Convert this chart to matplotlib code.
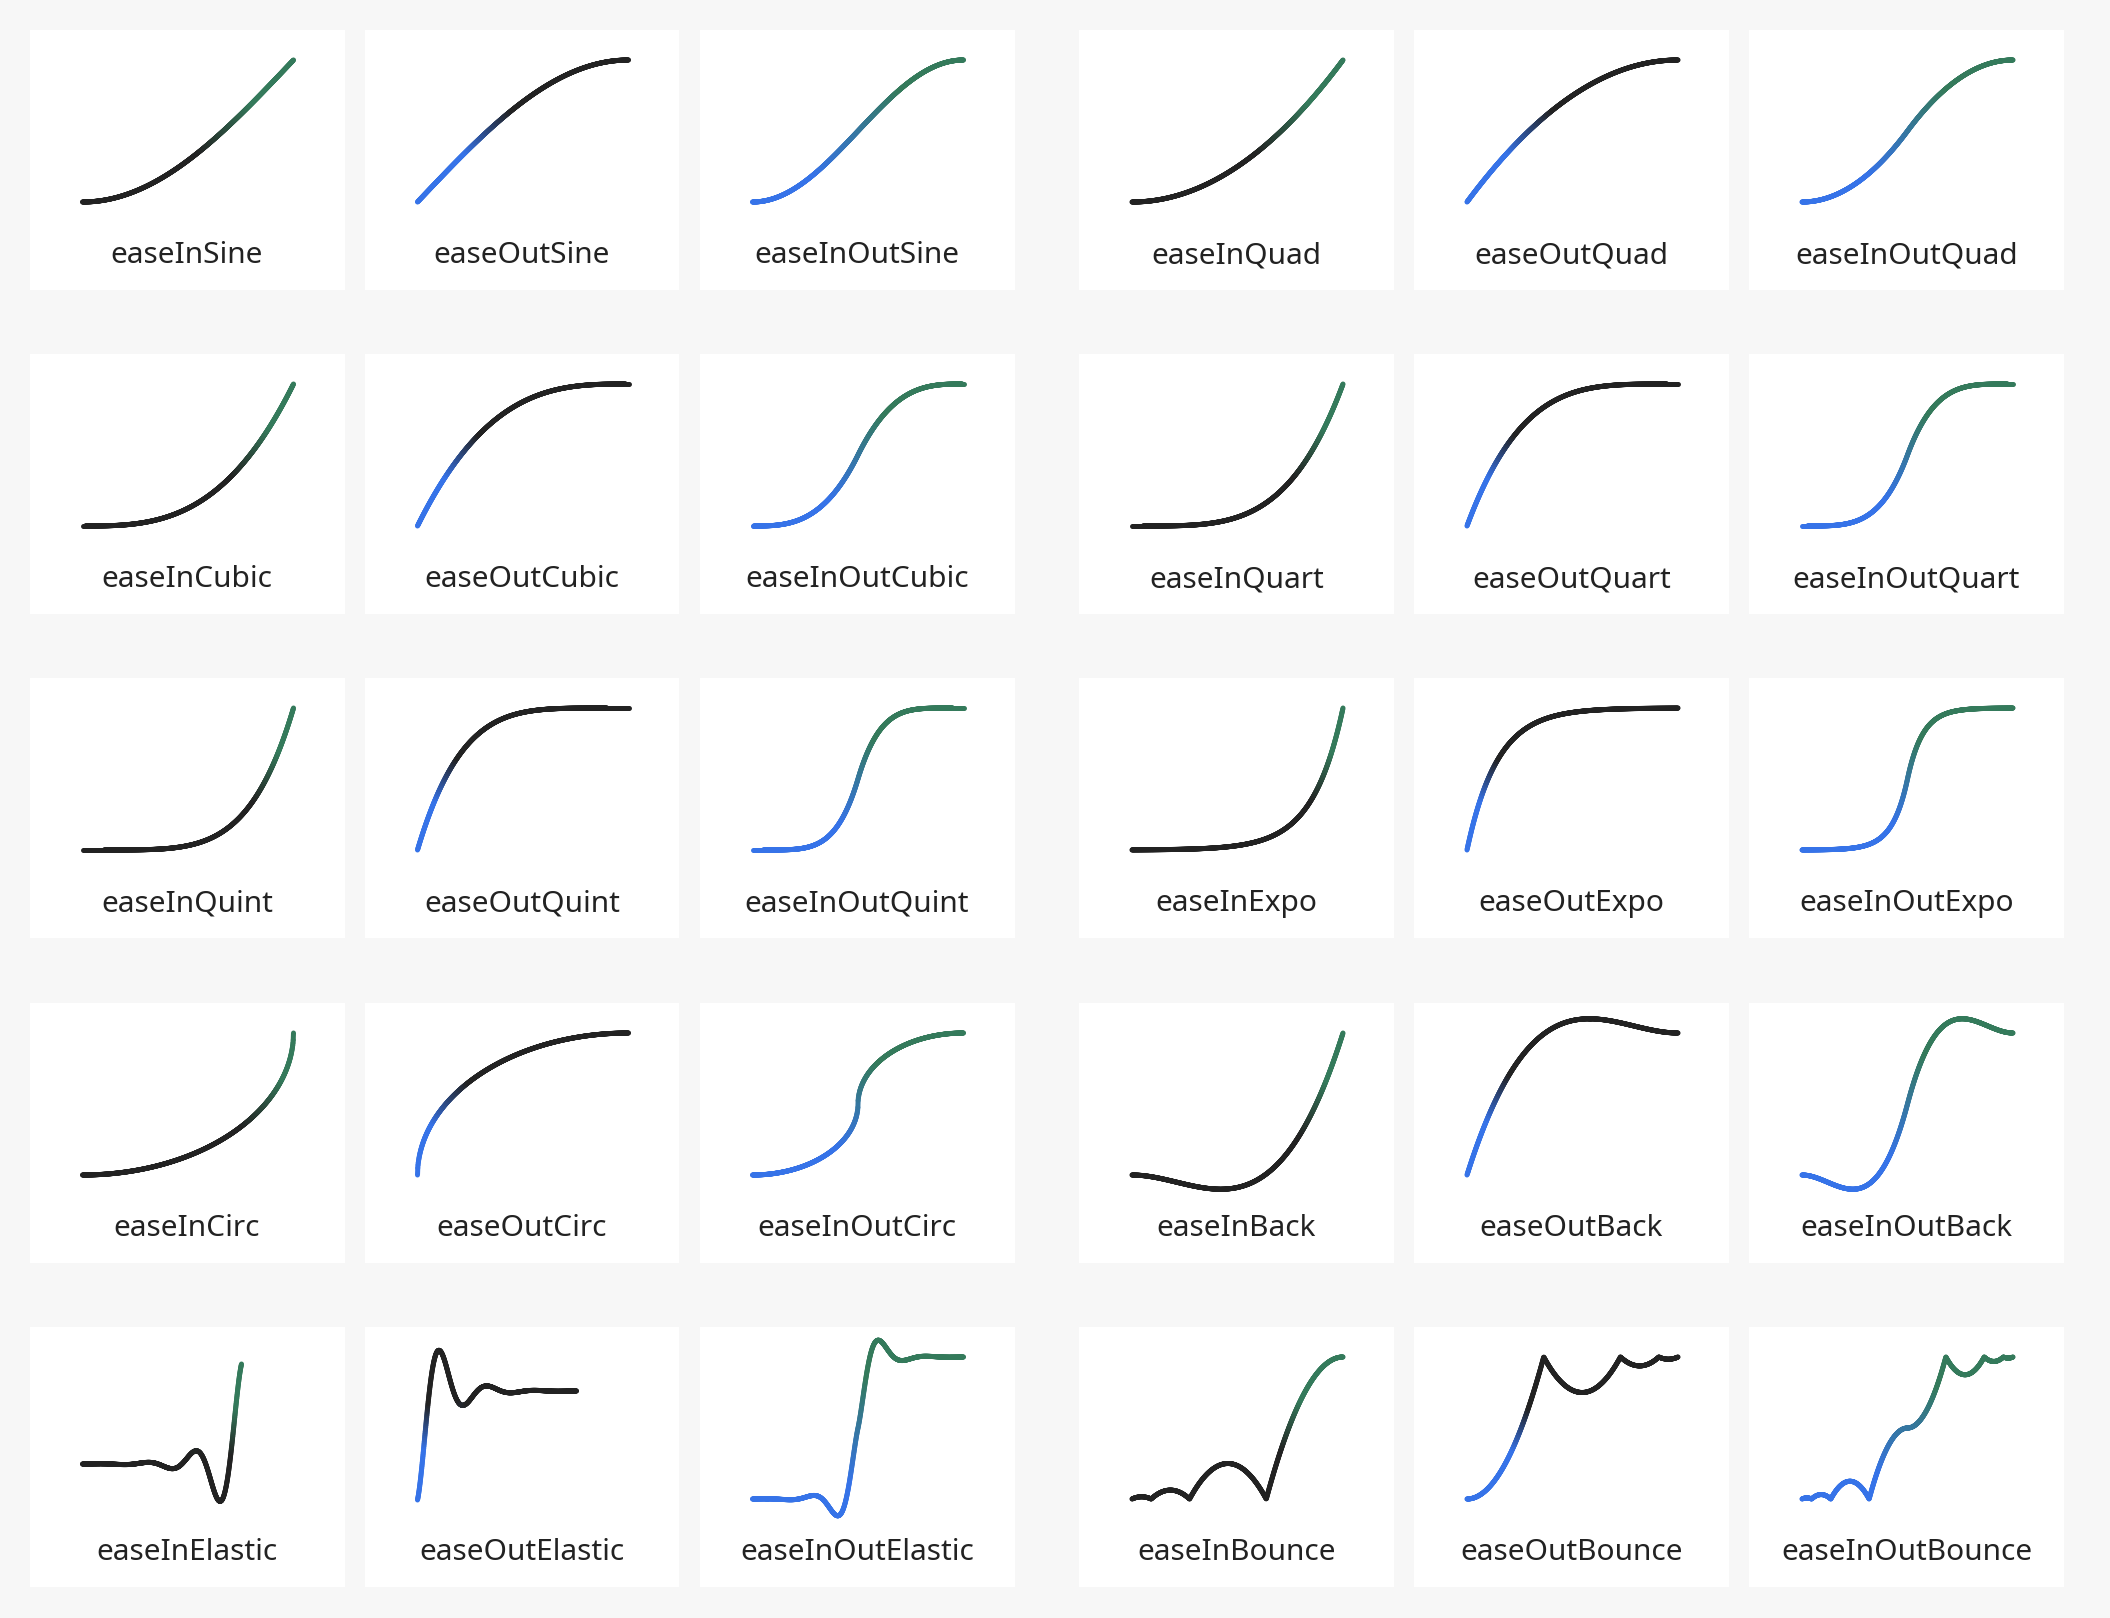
import numpy as np
import matplotlib.pyplot as plt
from matplotlib.collections import LineCollection
from matplotlib.patches import FancyBboxPatch
from matplotlib.colors import to_rgb

# one card per easing function, 5 rows x 6 cards (two groups of three)
labels = [
    "easeInSine", "easeOutSine", "easeInOutSine", "easeInQuad", "easeOutQuad", "easeInOutQuad",
    "easeInCubic", "easeOutCubic", "easeInOutCubic", "easeInQuart", "easeOutQuart", "easeInOutQuart",
    "easeInQuint", "easeOutQuint", "easeInOutQuint", "easeInExpo", "easeOutExpo", "easeInOutExpo",
    "easeInCirc", "easeOutCirc", "easeInOutCirc", "easeInBack", "easeOutBack", "easeInOutBack",
    "easeInElastic", "easeOutElastic", "easeInOutElastic", "easeInBounce", "easeOutBounce", "easeInOutBounce",
]

# the curves are the easing functions named on each card
C1 = 1.70158
C2 = C1 * 1.525
C3 = C1 + 1
C4 = 2 * np.pi / 3
C5 = 2 * np.pi / 4.5


def bounce_out(x):
    n1, d1 = 7.5625, 2.75
    return np.where(x < 1 / d1, n1 * x * x,
           np.where(x < 2 / d1, n1 * (x - 1.5 / d1) ** 2 + 0.75,
           np.where(x < 2.5 / d1, n1 * (x - 2.25 / d1) ** 2 + 0.9375,
                    n1 * (x - 2.625 / d1) ** 2 + 0.984375)))


def power_in(p):
    return lambda x: x ** p


def power_out(p):
    return lambda x: 1 - (1 - x) ** p


def power_inout(p):
    return lambda x: np.where(x < 0.5, 2 ** (p - 1) * x ** p, 1 - (-2 * x + 2) ** p / 2)


easing = {
    "easeInSine": lambda x: 1 - np.cos(x * np.pi / 2),
    "easeOutSine": lambda x: np.sin(x * np.pi / 2),
    "easeInOutSine": lambda x: -(np.cos(np.pi * x) - 1) / 2,
    "easeInExpo": lambda x: np.where(x == 0, 0, 2 ** (10 * x - 10)),
    "easeOutExpo": lambda x: np.where(x == 1, 1, 1 - 2 ** (-10 * x)),
    "easeInOutExpo": lambda x: np.where(x == 0, 0, np.where(x == 1, 1, np.where(
        x < 0.5, 2 ** (20 * x - 10) / 2, (2 - 2 ** (-20 * x + 10)) / 2))),
    "easeInCirc": lambda x: 1 - np.sqrt(1 - x ** 2),
    "easeOutCirc": lambda x: np.sqrt(1 - (x - 1) ** 2),
    "easeInOutCirc": lambda x: np.where(x < 0.5, (1 - np.sqrt(np.clip(1 - (2 * x) ** 2, 0, 1))) / 2,
                                        (np.sqrt(np.clip(1 - (-2 * x + 2) ** 2, 0, 1)) + 1) / 2),
    "easeInBack": lambda x: C3 * x ** 3 - C1 * x ** 2,
    "easeOutBack": lambda x: 1 + C3 * (x - 1) ** 3 + C1 * (x - 1) ** 2,
    "easeInOutBack": lambda x: np.where(x < 0.5, ((2 * x) ** 2 * ((C2 + 1) * 2 * x - C2)) / 2,
                                        ((2 * x - 2) ** 2 * ((C2 + 1) * (x * 2 - 2) + C2) + 2) / 2),
    "easeInElastic": lambda x: np.where((x == 0) | (x == 1), x,
                                        -2 ** (10 * x - 10) * np.sin((x * 10 - 10.75) * C4)),
    "easeOutElastic": lambda x: np.where((x == 0) | (x == 1), x,
                                         2 ** (-10 * x) * np.sin((x * 10 - 0.75) * C4) + 1),
    "easeInOutElastic": lambda x: np.where((x == 0) | (x == 1), x, np.where(
        x < 0.5, -(2 ** (20 * x - 10) * np.sin((20 * x - 11.125) * C5)) / 2,
        (2 ** (-20 * x + 10) * np.sin((20 * x - 11.125) * C5)) / 2 + 1)),
    "easeInBounce": lambda x: 1 - bounce_out(1 - x),
    "easeOutBounce": bounce_out,
    "easeInOutBounce": lambda x: np.where(x < 0.5, (1 - bounce_out(1 - 2 * x)) / 2,
                                          (1 + bounce_out(2 * x - 1)) / 2),
}
for p, fam in zip([2, 3, 4, 5], ["Quad", "Cubic", "Quart", "Quint"]):
    easing["easeIn" + fam] = power_in(p)
    easing["easeOut" + fam] = power_out(p)
    easing["easeInOut" + fam] = power_inout(p)

# colours
BG = "#f7f7f7"
BLACK = np.array(to_rgb("#222222"))
BLUE = np.array(to_rgb("#3673e8"))
GREEN = np.array(to_rgb("#347a5b"))

# layout in pixels
W, H = 2110, 1618
col_left = [29.5, 364.5, 699.5, 1079, 1414, 1749]
row_top = [30, 354, 678, 1003, 1327]
CW, CH = 315, 260
# where value 0 / 1 sit inside a card (x0, x1, y0, y1), from card top-left
default_box = (53, 264, 172, 30)
special_box = {"easeInElastic": (53, 212, 137, 37), "easeOutElastic": (53, 212, 173, 64)}


def curve_colors(name, y):
    f = (y - y.min()) / (y.max() - y.min())
    if name.startswith("easeInOut"):
        a, b, lo, hi = BLUE, GREEN, 0.2, 0.8
    elif name.startswith("easeIn"):
        a, b, lo, hi = BLACK, GREEN, 0.35, 0.7
    else:
        a, b, lo, hi = BLUE, BLACK, 0.35, 0.65
    w = np.clip((f - lo) / (hi - lo), 0, 1)[:, None]
    return a * (1 - w) + b * w


fig = plt.figure(figsize=(W / 100, H / 100), dpi=100, facecolor=BG)
bg = fig.add_axes([0, 0, 1, 1])
bg.set_xlim(0, W)
bg.set_ylim(H, 0)
bg.axis("off")

t = np.linspace(0, 1, 800)

for i, name in enumerate(labels):
    r, c = divmod(i, 6)
    left, top = col_left[c], row_top[r]

    # soft card shadow
    for k in range(14):
        bg.add_patch(FancyBboxPatch((left - k, top + 2 - k), CW + 2 * k, CH + 2 * k,
                                    boxstyle="round,pad=0,rounding_size=%d" % (k + 2),
                                    fc="black", ec="none", alpha=0.0018, zorder=1))

    ax = fig.add_axes([left / W, 1 - (top + CH) / H, CW / W, CH / H])
    ax.set_facecolor("white")
    for s in ax.spines.values():
        s.set_visible(False)
    ax.set_xticks([])
    ax.set_yticks([])

    x0, x1, y0, y1 = special_box.get(name, default_box)
    sx = (x1 - x0)
    ax.set_xlim(-x0 / sx, -x0 / sx + CW / sx)
    sy = (y0 - y1) / CH
    bottom = -((CH - y0) / CH) / sy
    ax.set_ylim(bottom, bottom + 1 / sy)

    y = easing[name](t).astype(float)
    pts = np.column_stack([t, y]).reshape(-1, 1, 2)
    segs = np.concatenate([pts[:-1], pts[1:]], axis=1)
    cols = curve_colors(name, (y[:-1] + y[1:]) / 2)
    lc = LineCollection(segs, colors=cols, linewidths=3.6, capstyle="round", joinstyle="round")
    lc.set_clip_on(False)
    ax.add_collection(lc)

    ax.text(0.5, (CH - 233) / CH, name, transform=ax.transAxes, ha="center", va="baseline",
            fontsize=21.5, color="#222222", family=["Noto Sans", "DejaVu Sans"])

fig.savefig("out.png", dpi=100, facecolor=BG)
